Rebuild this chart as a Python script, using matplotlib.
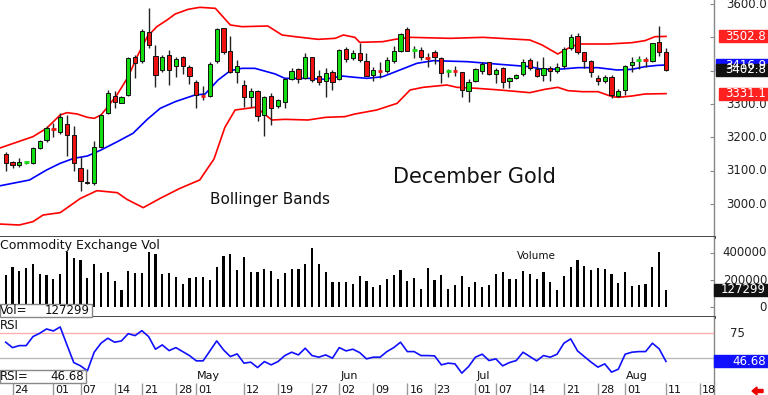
import numpy as np
import pandas as pd
import matplotlib
matplotlib.use('Agg')
import matplotlib.pyplot as plt
import matplotlib.transforms as mtrans
from matplotlib.patches import Rectangle, FancyArrow

plt.rcParams['font.family'] = 'DejaVu Sans'

# trading days (COMEX holidays removed)
holidays = ['2025-04-18', '2025-05-26', '2025-06-19', '2025-07-04']
days = pd.bdate_range('2025-03-21', '2025-08-22', freq='C', holidays=holidays)

opens = [3150, 3125, 3116, 3123, 3122, 3167, 3192, 3228, 3217, 3240,
         3207, 3107, 3066, 3064, 3172, 3272, 3324, 3304, 3327, 3440,
         3430, 3517, 3445, 3402, 3447, 3414, 3440, 3412, 3365, 3327,
         3325, 3429, 3527, 3459, 3395, 3357, 3320, 3340, 3267, 3325,
         3295, 3307, 3374, 3404, 3377, 3440, 3384, 3370, 3395, 3375,
         3464, 3439, 3454, 3429, 3387, 3401, 3399, 3430, 3460, 3524,
         3461, 3462, 3441, 3455, 3439, 3398, 3401, 3395, 3340, 3370,
         3400, 3425, 3390, 3407, 3370, 3379, 3389, 3432, 3404, 3387,
         3409, 3399, 3415, 3467, 3504, 3455, 3429, 3377, 3370, 3382,
         3325, 3342, 3417, 3431, 3433, 3430, 3487, 3457]
highs = [3157, 3130, 3137, 3130, 3172, 3192, 3234, 3244, 3272, 3267,
         3234, 3140, 3104, 3190, 3270, 3342, 3340, 3324, 3440, 3447,
         3524, 3587, 3477, 3447, 3462, 3442, 3444, 3417, 3372, 3354,
         3427, 3527, 3529, 3504, 3432, 3372, 3347, 3342, 3325, 3332,
         3315, 3379, 3407, 3407, 3452, 3442, 3402, 3407, 3402, 3464,
         3472, 3462, 3482, 3452, 3410, 3427, 3442, 3474, 3514, 3532,
         3474, 3470, 3452, 3462, 3442, 3404, 3414, 3397, 3374, 3407,
         3427, 3427, 3407, 3412, 3380, 3390, 3434, 3437, 3430, 3440,
         3415, 3424, 3472, 3509, 3512, 3457, 3432, 3387, 3387, 3387,
         3344, 3417, 3440, 3444, 3440, 3484, 3534, 3467]
lows = [3100, 3107, 3112, 3120, 3120, 3165, 3185, 3202, 3210, 3145,
        3100, 3040, 3060, 3057, 3167, 3270, 3287, 3302, 3324, 3379,
        3424, 3467, 3352, 3397, 3357, 3382, 3390, 3359, 3287, 3312,
        3322, 3422, 3450, 3392, 3364, 3292, 3290, 3250, 3205, 3237,
        3287, 3287, 3372, 3362, 3374, 3367, 3357, 3322, 3342, 3372,
        3427, 3432, 3427, 3384, 3370, 3377, 3392, 3422, 3457, 3458,
        3439, 3432, 3410, 3419, 3364, 3382, 3384, 3320, 3307, 3367,
        3390, 3387, 3362, 3347, 3347, 3374, 3384, 3402, 3382, 3370,
        3369, 3394, 3407, 3462, 3449, 3407, 3382, 3357, 3362, 3317,
        3320, 3327, 3397, 3405, 3412, 3427, 3444, 3400]
closes = [3124, 3116, 3125, 3126, 3167, 3188, 3229, 3226, 3262, 3207,
          3124, 3070, 3062, 3172, 3267, 3334, 3307, 3322, 3437, 3422,
          3520, 3477, 3387, 3440, 3402, 3435, 3414, 3384, 3327, 3325,
          3419, 3525, 3457, 3397, 3415, 3320, 3339, 3265, 3322, 3287,
          3312, 3374, 3400, 3375, 3440, 3372, 3367, 3394, 3367, 3462,
          3434, 3454, 3432, 3385, 3402, 3400, 3432, 3460, 3509, 3460,
          3463, 3442, 3439, 3442, 3392, 3400, 3399, 3342, 3367, 3404,
          3420, 3390, 3402, 3365, 3377, 3387, 3425, 3407, 3384, 3407,
          3400, 3412, 3465, 3502, 3455, 3429, 3395, 3370, 3380, 3327,
          3340, 3414, 3427, 3433, 3431, 3482, 3457, 3402.8]

# volume in thousands
vols_k = [237, 299, 267, 286, 316, 242, 237, 207, 242, 410,
          360, 348, 212, 316, 249, 262, 193, 126, 269, 254,
          254, 410, 390, 244, 249, 225, 170, 212, 225, 225,
          200, 294, 378, 390, 274, 368, 262, 262, 279, 267,
          207, 249, 282, 284, 316, 435, 316, 257, 188, 188,
          185, 170, 230, 193, 151, 163,
          207, 237, 274, 193, 212, 133, 286, 200, 237, 133,
          163, 230, 148, 185, 145, 163, 244, 262, 207, 207,
          269, 244, 204, 262, 185, 126, 232, 294, 348, 304,
          274, 286, 282, 244, 178, 262, 155, 163, 170, 299, 405, 127.299]

rsi = [66, 60.6, 62.6, 62.6, 71.6, 75, 79.3, 77.3, 81.3, 63.3,
       45.6, 42.3, 37.3, 56, 65, 70, 66, 67.3, 74.6, 72.6,
       77.6, 71.6, 59, 63.3, 57.6, 60.6, 56.6, 52.6, 47.3, 47.3,
       57.3, 67.3, 58.3, 51.6, 54.3, 45, 46, 40.6, 46.6, 43.3,
       46.6, 52.6, 56, 53.3, 60, 52.6, 51, 53.3, 50, 60.6,
       57.3, 59, 55.6, 49.3, 51, 51, 56.6, 60.6, 66, 56.6,
       56.6, 52.6, 52.6, 52.3, 43.3, 45, 44.3, 35, 41.6, 51,
       54, 47.6, 49.3, 42.3, 45.6, 47.6, 56, 51.6, 47.3, 52.6,
       51, 54, 65, 69.3, 57.3, 51.6, 46, 41, 44.3, 36,
       39, 54, 56, 56.6, 56.6, 65, 59.3, 46.68]

# bollinger bands (day index, price)
upper_idx = [-1, 4, 6, 8, 9, 10.5, 12, 13, 14, 15, 16.4, 18, 19.3, 20.8, 22.2, 23.7,
             24.9, 26.8, 28.5, 30.8, 33, 34.7, 38.5, 40.6, 42.5, 45.9, 48.4, 49.6,
             51.3, 52, 55.4, 57.2, 59.4, 65.3, 70.1, 77, 78.8, 81.1, 82.6, 84.1,
             88.5, 92, 93.9, 95.4, 97]
upper_val = [3167, 3202, 3227, 3267, 3274, 3270, 3260, 3257, 3267, 3292, 3329, 3382,
             3442, 3502, 3532, 3552, 3570, 3584, 3590, 3587, 3537, 3532, 3534, 3507,
             3502, 3494, 3497, 3507, 3500, 3485, 3487, 3494, 3500, 3497, 3500, 3492,
             3477, 3450, 3467, 3480, 3480, 3484, 3490, 3502, 3502.8]
mid_idx = [-1, 3.5, 6, 8, 10, 12, 14, 16.4, 18.7, 20.8, 22.7, 24.9, 27.8, 29.3, 31.2,
           33, 34.7, 36.6, 39.6, 41, 44.4, 46.9, 49.4, 51.3, 53.1, 55.4, 57.9, 60.4,
           62.8, 67.8, 72.6, 77, 78.8, 81.7, 84.1, 87, 89.8, 92, 93.9, 95.8, 97]
mid_val = [3054, 3072, 3102, 3122, 3137, 3144, 3162, 3187, 3212, 3254, 3287, 3307,
           3327, 3330, 3372, 3400, 3407, 3407, 3390, 3377, 3377, 3374, 3384, 3380,
           3377, 3382, 3402, 3422, 3430, 3427, 3419, 3412, 3404, 3405, 3409, 3409,
           3402, 3404, 3412, 3416, 3416.9]
lower_idx = [-1, 2, 4, 5.5, 8, 11, 13.4, 16.4, 17.8, 20.2, 22.7, 25.6, 28.5, 30.6,
             32.2, 33.7, 36.6, 37.4, 39.1, 41, 44.4, 47, 49.8, 51.3, 54.5, 57.5, 59.4,
             61.3, 64.8, 66.3, 69.2, 72.6, 77, 79.2, 81.1, 82.6, 84.7, 87, 89.1, 90,
             92, 93.9, 97]
lower_val = [2940, 2937, 2947, 2967, 2974, 3017, 3040, 3034, 3014, 2989, 3017, 3047,
             3072, 3135, 3230, 3282, 3290, 3280, 3252, 3254, 3252, 3260, 3262, 3270,
             3282, 3302, 3342, 3350, 3357, 3350, 3347, 3342, 3334, 3344, 3350, 3340,
             3337, 3337, 3322, 3320, 3324, 3330, 3331.1]

tick_dates = ['2025-03-24', '2025-04-01', '2025-04-07', '2025-04-14', '2025-04-21',
              '2025-04-28', '2025-05-01', '2025-05-12', '2025-05-19', '2025-05-27',
              '2025-06-02', '2025-06-09', '2025-06-16', '2025-06-23', '2025-07-01',
              '2025-07-07', '2025-07-14', '2025-07-21', '2025-07-28', '2025-08-01',
              '2025-08-11', '2025-08-18']
month_dates = ['2025-05-01', '2025-06-02', '2025-07-01', '2025-08-01']
month_names = ['May', 'Jun', 'Jul', 'Aug']

price_ticks = [3000, 3100, 3200, 3300, 3400, 3500, 3600]
vol_ticks = [0, 200000, 400000]

n = len(closes)
x = np.arange(n)
o = np.array(opens, float)
h = np.array(highs, float)
l = np.array(lows, float)
c = np.array(closes, float)
vols = np.array(vols_k) * 1000
tick_idx = days.get_indexer(pd.to_datetime(tick_dates))
month_idx = days.get_indexer(pd.to_datetime(month_dates))

W, H = 768, 395
fig = plt.figure(figsize=(W / 100, H / 100), dpi=100)


def px_axes(left, top, right, bottom):
    return fig.add_axes([left / W, 1 - bottom / H, (right - left) / W, (bottom - top) / H])


ax = px_axes(0, 0, 714, 237)
axv = px_axes(0, 237, 714, 317)
axr = px_axes(0, 317, 714, 382.5)
axd = px_axes(0, 382.5, 714, 395)

xl = (-0.837, 104.05)
for a in (ax, axv, axr, axd):
    a.set_xlim(*xl)
    a.set_xticks([])
    for s in ('left', 'top', 'bottom'):
        a.spines[s].set_visible(False)
    a.spines['right'].set_color('#888888')
    a.spines['right'].set_linewidth(1)

ax.spines['bottom'].set_visible(True)
ax.spines['bottom'].set_color('#333333')
ax.spines['bottom'].set_linewidth(2)
axv.spines['bottom'].set_visible(True)
axv.spines['bottom'].set_color('#333333')
axv.spines['bottom'].set_linewidth(2)
axr.spines['bottom'].set_visible(True)
axr.spines['bottom'].set_color('#888888')

# ---- price panel
ax.set_ylim(2901, 3612)
green = '#11dd11'
red = '#ee1111'
ax.vlines(x, l, h, color='#222222', lw=1, zorder=2)
up = c > o
body_lo = np.minimum(o, c)
body_h = np.abs(c - o)
big = body_h >= 4
ax.bar(x[big], body_h[big], bottom=body_lo[big], width=0.62,
       color=np.where(up[big], green, red), edgecolor='#111111', lw=0.7, zorder=3)
ax.hlines(c[~big], x[~big] - 0.35, x[~big] + 0.35,
          color=np.where(up[~big], green, red), lw=2, zorder=3)

ax.plot(upper_idx, upper_val, color='#ff0000', lw=1.2, zorder=1)
ax.plot(lower_idx, lower_val, color='#ff0000', lw=1.2, zorder=1)
ax.plot(mid_idx, mid_val, color='#0000ff', lw=1.2, zorder=1)

ax.yaxis.tick_right()
ax.set_yticks(price_ticks)
ax.tick_params(axis='y', direction='in', length=3, color='#888888', labelright=False)

ax.text(0.665, 0.253, 'December Gold', transform=ax.transAxes, fontsize=15,
        ha='center', va='center', color='#111111')
ax.text(0.378, 0.16, 'Bollinger Bands', transform=ax.transAxes, fontsize=11,
        ha='center', va='center', color='#111111')

# ---- volume panel
axv.set_ylim(-74000, 518500)
axv.bar(x, vols, width=0.32, color='black', zorder=2)
axv.yaxis.tick_right()
axv.set_yticks(vol_ticks)
axv.tick_params(axis='y', direction='in', length=3, color='#888888', labelright=False)
axv.text(0.0, 0.9, 'Commodity Exchange Vol', transform=axv.transAxes, fontsize=9,
         ha='left', va='center', color='#111111')
axv.text(0.751, 0.76, 'Volume', transform=axv.transAxes, fontsize=7.5,
         ha='center', va='center', color='#111111')

# ---- RSI panel
axr.set_ylim(25.6, 91.3)
axr.axhline(75, color='#ffb0b0', lw=1, zorder=1)
axr.axhline(50, color='#bbbbbb', lw=1, zorder=1)
axr.plot(x, rsi, color='#1010ff', lw=1.2, zorder=2)
axr.set_yticks([])
axr.text(0.0, 0.87, 'RSI', transform=axr.transAxes, fontsize=8.5,
         ha='left', va='center', color='#111111')
tr_m = mtrans.blended_transform_factory(axr.transData, axr.transAxes)
for mi, mn in zip(month_idx, month_names):
    axr.text(mi + 0.15, 0.02, mn, transform=tr_m, fontsize=8, ha='left', va='bottom',
             color='#111111')

# ---- date strip
axd.set_ylim(0, 1)
axd.set_yticks([])
axd.vlines(tick_idx, 0, 1, color='#999999', lw=1)
for ti, td in zip(tick_idx, tick_dates):
    axd.text(ti + 0.3, 0.4, td[-2:], fontsize=8, ha='left', va='center', color='#111111')


# ---- right-hand labels and value boxes
def right_label(a, v, s, xr=767):
    tr = mtrans.blended_transform_factory(fig.transFigure, a.transData)
    a.text(xr / W, v, s, transform=tr, ha='right', va='center', fontsize=8.5,
           color='#222222', clip_on=False)


def value_box(a, v, s, color, x0=716, bh=12):
    yf = a.transData.transform((0, v))[1] / H
    fig.patches.append(Rectangle((x0 / W, yf - bh / 2 / H), (W - x0) / W, bh / H,
                                 transform=fig.transFigure, color=color, zorder=5))
    fig.text(766 / W, yf, s, ha='right', va='center', color='white', fontsize=8.5, zorder=6)


for v in price_ticks:
    right_label(ax, v, f'{v:.1f}')
for v in vol_ticks:
    right_label(axv, v, f'{v}')
right_label(axr, 75, '75', xr=745)

value_box(ax, upper_val[-1], f'{upper_val[-1]:.1f}', '#ff2020', x0=719)
value_box(ax, mid_val[-1], f'{mid_val[-1]:.1f}', '#1010ff')
value_box(ax, closes[-1], f'{closes[-1]:.1f}', '#111111')
value_box(ax, lower_val[-1], f'{lower_val[-1]:.1f}', '#ff2020', x0=719)
value_box(axv, vols[-1], f'{vols[-1]:.0f}', '#111111', x0=714)
value_box(axr, rsi[-1], f'{rsi[-1]:.2f}', '#1010ff', x0=714)


def left_box(top, right, label, val):
    fig.patches.append(Rectangle((0, 1 - (top + 13) / H), right / W, 13 / H,
                                 transform=fig.transFigure, facecolor='white',
                                 edgecolor='#888888', lw=1, zorder=5))
    yf = 1 - (top + 6.5) / H
    fig.text(0, yf, label, ha='left', va='center', fontsize=8.5, zorder=6, color='#111111')
    fig.text((right - 2) / W, yf, val, ha='right', va='center', fontsize=8.5, zorder=6,
             color='#111111')


left_box(304, 92, 'Vol=', f'{vols[-1]:.0f}')
left_box(369.5, 86, 'RSI=', f'{rsi[-1]:.2f}')

fig.patches.append(FancyArrow(763 / W, 1 - 391 / H, -6 / W, 0, width=3 / H,
                              head_width=8 / H, head_length=5 / W,
                              length_includes_head=False, transform=fig.transFigure,
                              color='#ee0000', zorder=6))

fig.savefig('out.png', dpi=100)
